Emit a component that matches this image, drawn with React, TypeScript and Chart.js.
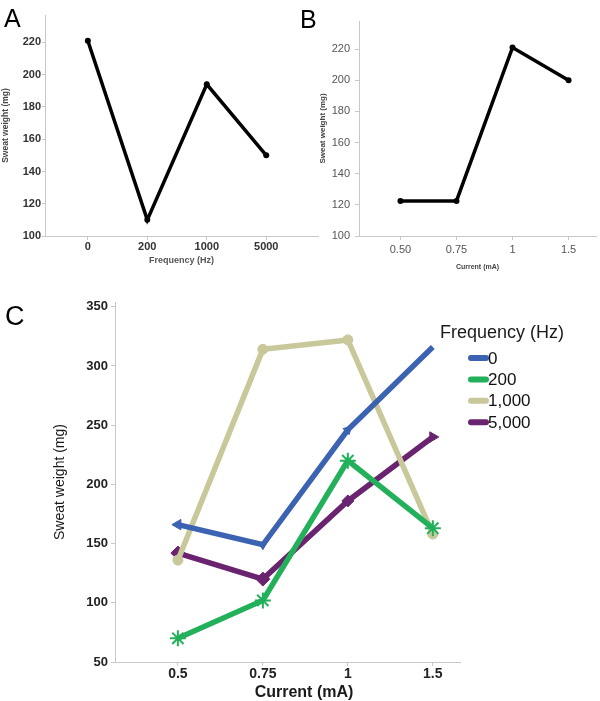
import React, { useEffect, useRef } from 'react';
import { Chart, registerables } from 'chart.js';
Chart.register(...registerables);

// ---- data ----
const freqLabels = ['0', '200', '1000', '5000'];
const sweatByFreq = [221, 110, 194, 150];
const currentLabelsB = ['0.50', '0.75', '1', '1.5'];
const sweatByCurrent = [122.5, 122.5, 221, 200];
const yTicksAB = [100, 120, 140, 160, 180, 200, 220];

const currentLabelsC = ['0.5', '0.75', '1', '1.5'];
const seriesNames = ['0', '200', '1,000', '5,000'];
const series0 = [166, 149, 246, 316];
const series200 = [70, 102, 220, 163];
const series1000 = [136, 314, 322, 158];
const series5000 = [142, 120, 186, 240];
const yTicksC = [50, 100, 150, 200, 250, 300, 350];

const seriesColors = ['#3c63b1', '#23b05b', '#c9c89b', '#6a236f'];

const FONT = '"Liberation Sans", Arial, sans-serif';
const AXIS = '#c8c8c8';

const pts = (vals: number[]) => vals.map((y, i) => ({ x: i, y }));

function xScale(labels: string[], min: number, max: number, h: number, tickFont: any, tickColor: string, pad: number, title: any) {
  return {
    type: 'linear',
    min,
    max,
    afterBuildTicks: (s: any) => { s.ticks = labels.map((_, i) => ({ value: i })); },
    afterFit: (s: any) => { s.height = h; },
    ticks: {
      callback: (v: any) => labels[v] ?? '',
      autoSkip: false,
      maxRotation: 0,
      font: tickFont,
      color: tickColor,
      padding: pad,
    },
    grid: { drawOnChartArea: false, drawTicks: true, tickLength: 4, color: AXIS },
    border: { color: AXIS, width: 1 },
    title,
  };
}

function yScale(ticks: number[], min: number, max: number, w: number, tickFont: any, tickColor: string, tl: number, pad: number, title: any) {
  return {
    type: 'linear',
    min,
    max,
    afterBuildTicks: (s: any) => { s.ticks = ticks.map((v) => ({ value: v })); },
    afterFit: (s: any) => { s.width = w; },
    ticks: { font: tickFont, color: tickColor, padding: pad },
    grid: { drawOnChartArea: false, drawTicks: true, tickLength: tl, color: AXIS },
    border: { color: AXIS, width: 1 },
    title,
  };
}

const legendTitle = 'Frequency (Hz)';
const xTitleC = 'Current (mA)';

const cPlugin = {
  id: 'cExtras',
  afterDraw(chart: any) {
    const ctx = chart.ctx;
    ctx.save();
    ctx.textBaseline = 'middle';
    ctx.textAlign = 'left';
    ctx.fillStyle = '#1a1a1a';
    ctx.font = `18px ${FONT}`;
    ctx.fillText(legendTitle, 440, 48);
    chart.data.datasets.forEach((ds: any, i: number) => {
      const y = 73 + i * 21.4;
      ctx.strokeStyle = ds.borderColor;
      ctx.lineWidth = 6;
      ctx.lineCap = 'round';
      ctx.beginPath();
      ctx.moveTo(471, y);
      ctx.lineTo(486, y);
      ctx.stroke();
      ctx.fillStyle = '#111';
      ctx.font = `17px ${FONT}`;
      ctx.fillText(ds.label, 488, y + 1);
    });
    ctx.textAlign = 'center';
    ctx.fillStyle = '#1a1a1a';
    ctx.font = `bold 16px ${FONT}`;
    ctx.fillText(xTitleC, 304, 408);
    ctx.restore();
  },
};

function ChartA() {
  const ref = useRef<HTMLCanvasElement>(null);
  useEffect(() => {
    const chart = new Chart(ref.current!, {
      type: 'line',
      data: {
        datasets: [{
          data: pts(sweatByFreq),
          borderColor: '#000',
          backgroundColor: '#000',
          borderWidth: 3.5,
          pointRadius: 3,
          pointBorderWidth: 0,
          tension: 0,
        }],
      },
      options: {
        responsive: false,
        animation: false,
        events: [],
        layout: { padding: { left: 0, top: 15, right: 12, bottom: 0 } },
        plugins: { legend: { display: false }, tooltip: { enabled: false } },
        scales: {
          x: xScale(freqLabels, -0.72, 3.87, 39, { family: FONT, size: 11, weight: 'bold' }, '#333', 0,
            { display: true, text: 'Frequency (Hz)', color: '#555', font: { family: FONT, size: 9, weight: 'bold' }, padding: { top: 0, bottom: 9 } }),
          y: yScale(yTicksAB, 100, 237, 45, { family: FONT, size: 11, weight: 'bold' }, '#333', 3, 1,
            { display: true, text: 'Sweat weight (mg)', color: '#444', font: { family: FONT, size: 8.5, weight: 'bold' }, padding: { top: 1, bottom: 0 } }),
        },
      } as any,
    });
    return () => chart.destroy();
  }, []);
  return <canvas ref={ref} width={330} height={275} style={{ position: 'absolute', left: 0, top: 0 }} />;
}

function ChartB() {
  const ref = useRef<HTMLCanvasElement>(null);
  useEffect(() => {
    const chart = new Chart(ref.current!, {
      type: 'line',
      data: {
        datasets: [{
          data: pts(sweatByCurrent),
          borderColor: '#000',
          backgroundColor: '#000',
          borderWidth: 3.5,
          pointRadius: 3,
          pointBorderWidth: 0,
          tension: 0,
        }],
      },
      options: {
        responsive: false,
        animation: false,
        events: [],
        layout: { padding: { left: 0, top: 21, right: 2, bottom: 0 } },
        plugins: { legend: { display: false }, tooltip: { enabled: false } },
        scales: {
          x: xScale(currentLabelsB, -0.74, 3.49, 39, { family: FONT, size: 11 }, '#555', 3,
            { display: true, text: 'Current (mA)', color: '#444', font: { family: FONT, size: 7, weight: 'bold' }, padding: { top: 0, bottom: 4 } }),
          y: yScale(yTicksAB, 100, 238, 59, { family: FONT, size: 11 }, '#555', 4, 5,
            { display: true, text: 'Sweat weight (mg)', color: '#444', font: { family: FONT, size: 8, weight: 'bold' }, padding: { top: 18, bottom: 0 } }),
        },
      } as any,
    });
    return () => chart.destroy();
  }, []);
  return <canvas ref={ref} width={300} height={275} style={{ position: 'absolute', left: 300, top: 0 }} />;
}

function ChartC() {
  const ref = useRef<HTMLCanvasElement>(null);
  useEffect(() => {
    const all = [series0, series200, series1000, series5000];
    const styles: any[] = [
      { pointStyle: 'triangle', pointRotation: [-90, 180, 45, 0], pointRadius: [6, 5, 5, 0] },
      { pointStyle: 'star', pointRotation: 0, pointRadius: 8, pointBorderWidth: 2 },
      { pointStyle: 'circle', pointRotation: 0, pointRadius: 5 },
      { pointStyle: ['rectRot', 'rectRot', 'rectRot', 'triangle'], pointRotation: [0, 0, 0, 90], pointRadius: [7, 7, 6, 6] },
    ];
    const chart = new Chart(ref.current!, {
      type: 'line',
      data: {
        datasets: all.map((vals, i) => ({
          label: seriesNames[i],
          data: pts(vals),
          borderColor: seriesColors[i],
          backgroundColor: seriesColors[i],
          pointBorderColor: seriesColors[i],
          pointBackgroundColor: seriesColors[i],
          borderWidth: 5.5,
          pointBorderWidth: 1,
          tension: 0,
          clip: false,
          ...styles[i],
        })),
      },
      options: {
        responsive: false,
        animation: false,
        events: [],
        layout: { padding: { left: 0, top: 17, right: 140, bottom: 0 } },
        plugins: { legend: { display: false }, tooltip: { enabled: false } },
        scales: {
          x: xScale(currentLabelsC, -0.74, 3.32, 39, { family: FONT, size: 14, weight: 'bold' }, '#222', 0,
            { display: false, text: '' }),
          y: yScale(yTicksC, 50, 354, 115, { family: FONT, size: 13, weight: 'bold' }, '#222', 4, 3,
            { display: true, text: 'Sweat weight (mg)', color: '#1a1a1a', font: { family: FONT, size: 14 }, padding: { top: 52, bottom: 0 } }),
        },
      } as any,
      plugins: [cPlugin],
    });
    return () => chart.destroy();
  }, []);
  return <canvas ref={ref} width={600} height={416} style={{ position: 'absolute', left: 0, top: 285 }} />;
}

const letterStyle = (left: number, top: number, size: number): React.CSSProperties => ({
  position: 'absolute', left, top, fontSize: size, lineHeight: 1, fontFamily: FONT, color: '#000',
});

export default function App() {
  return (
    <div style={{ position: 'absolute', left: 0, top: 0, width: 600, height: 701, overflow: 'hidden', background: '#fff' }}>
      <ChartA />
      <ChartB />
      <ChartC />
      <div style={letterStyle(4, 6, 25)}>A</div>
      <div style={letterStyle(300, 7, 25)}>B</div>
      <div style={letterStyle(5, 303, 27)}>C</div>
    </div>
  );
}
